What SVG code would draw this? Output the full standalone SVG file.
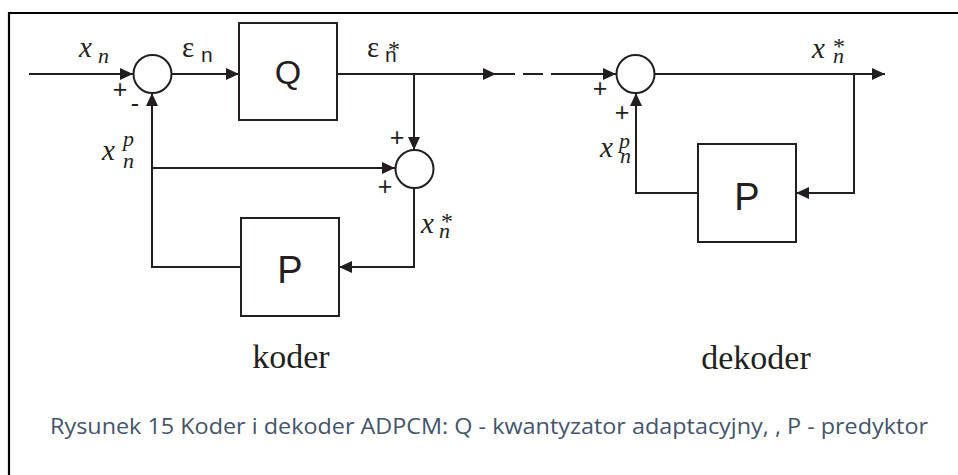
<svg xmlns="http://www.w3.org/2000/svg" width="958" height="475" viewBox="0 0 958 475">
<style>
.ln{fill:none;stroke:#231f20;stroke-width:2}
.bx{fill:#fff;stroke:#231f20;stroke-width:2}
.blk{font-family:"Liberation Sans",Arial,sans-serif;fill:#231f20;text-anchor:middle}
.var{font-family:"Liberation Serif","Times New Roman",serif;font-style:italic;font-size:29px;fill:#231f20}
.gr{font-family:"Liberation Serif","Times New Roman",serif;font-size:29px;fill:#231f20}
.sub{font-family:"Liberation Serif","Times New Roman",serif;font-style:italic;font-size:22px;fill:#231f20}
.subs{font-family:"Liberation Sans",Arial,sans-serif;font-size:21px;fill:#231f20}
.ast{font-family:"Liberation Serif","Times New Roman",serif;font-size:24px;fill:#231f20;text-anchor:middle}
.sg{font-family:"Liberation Sans",Arial,sans-serif;font-size:25px;fill:#231f20;text-anchor:middle}
.ttl{font-family:"Liberation Serif","Times New Roman",serif;font-size:34px;fill:#231f20;text-anchor:middle}
.cap{font-family:"Open Sans","Noto Sans",sans-serif;font-size:21px;fill:#44546a}
</style>
<defs>
<marker id="ah" markerUnits="userSpaceOnUse" markerWidth="13" markerHeight="12" refX="13" refY="6" orient="auto">
<path d="M0,0 L13,6 L0,12 z" fill="#231f20"/>
</marker>
</defs>
<rect width="958" height="475" fill="#fff"/>
<g id="frame">
<path d="M9,475 V13 H958" fill="none" stroke="#000" stroke-width="2.2"/>
</g>
<g id="connectors">
<path class="ln" d="M29,74 H133" marker-end="url(#ah)"/>
<path class="ln" d="M171.5,74 H239" marker-end="url(#ah)"/>
<path class="ln" d="M337,74 H496" marker-end="url(#ah)"/>
<path class="ln" d="M496,74 H616" stroke-dasharray="19 8 20 8 80" marker-end="url(#ah)"/>
<path class="ln" d="M414,74 V150" marker-end="url(#ah)"/>
<path class="ln" d="M152,168 H395" marker-end="url(#ah)"/>
<path class="ln" d="M414,188 V267 H339" marker-end="url(#ah)"/>
<path class="ln" d="M241,267 H152 V93" marker-end="url(#ah)"/>
<path class="ln" d="M654,74 H885" marker-end="url(#ah)"/>
<path class="ln" d="M854,74 V193 H796" marker-end="url(#ah)"/>
<path class="ln" d="M698,193 H636 V93" marker-end="url(#ah)"/>
</g>
<g id="sum1"><circle class="bx" cx="152.5" cy="74" r="19"/></g>
<g id="Q"><rect class="bx" x="239" y="23" width="98" height="97"/><text class="blk" x="288" y="84" font-size="34">Q</text></g>
<g id="sum2"><circle class="bx" cx="414.5" cy="169" r="19"/></g>
<g id="P1"><rect class="bx" x="241" y="218" width="98" height="98"/><text class="blk" x="290" y="283" font-size="38">P</text></g>
<g id="sum3"><circle class="bx" cx="635.5" cy="74" r="19"/></g>
<g id="P2"><rect class="bx" x="698" y="144" width="98" height="98"/><text class="blk" x="747" y="210" font-size="38">P</text></g>
<g id="labels">
<text class="var" x="79" y="57">x</text><text class="sub" x="98" y="63">n</text>
<text class="gr" x="182" y="57">ε</text><text class="subs" x="201" y="62">n</text>
<text class="gr" x="367" y="57">ε</text><text class="subs" x="385" y="62">n</text><text class="ast" x="394" y="57">*</text>
<text class="var" x="102" y="160">x</text><text class="sub" x="123" y="146">p</text><text class="sub" x="123" y="168">n</text>
<text class="var" x="421" y="233">x</text><text class="ast" x="447" y="229">*</text><text class="sub" x="439" y="238">n</text>
<text class="var" x="600" y="157">x</text><text class="sub" x="619" y="148">p</text><text class="sub" x="620" y="163">n</text>
<text class="var" x="812" y="58">x</text><text class="ast" x="839" y="54">*</text><text class="sub" x="833" y="63">n</text>
<text class="sg" x="120" y="98">+</text>
<text class="sg" x="135" y="112">-</text>
<text class="sg" x="397" y="146">+</text>
<text class="sg" x="385" y="195">+</text>
<text class="sg" x="600" y="97">+</text>
<text class="sg" x="622" y="121">+</text>
</g>
<g id="titles">
<text class="ttl" x="291" y="368">koder</text>
<text class="ttl" x="756" y="369">dekoder</text>
</g>
<g id="caption">
<text class="cap" x="50" y="434" textLength="878" lengthAdjust="spacingAndGlyphs">Rysunek 15 Koder i dekoder ADPCM: Q - kwantyzator adaptacyjny, , P - predyktor</text>
</g>
</svg>
